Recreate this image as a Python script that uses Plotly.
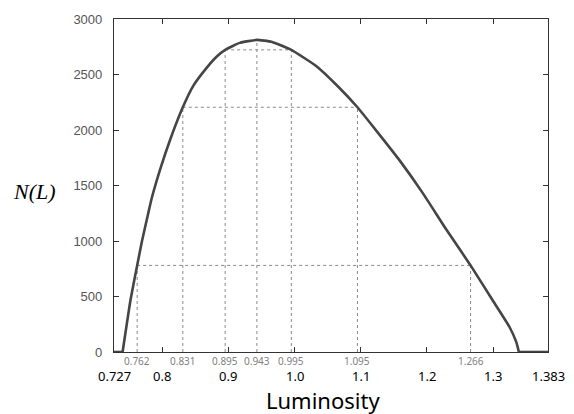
import plotly.graph_objects as go

# Curve N(L)
lum = [0.727, 0.740, 0.752, 0.762, 0.769, 0.778, 0.784, 0.797, 0.812, 0.831,
       0.847, 0.867, 0.882, 0.895, 0.917, 0.943, 0.965, 0.995, 1.033, 1.066,
       1.095, 1.124, 1.159, 1.194, 1.229, 1.266, 1.300, 1.325, 1.335, 1.339, 1.383]
count = [0, 0, 470, 780, 990, 1230, 1385, 1650, 1915, 2205,
         2400, 2560, 2660, 2722, 2785, 2812, 2795, 2722, 2575, 2390,
         2205, 1990, 1724, 1429, 1106, 780, 459, 223, 91, 0, 0]

# Marked luminosity values and their N
mark_L = [0.762, 0.831, 0.895, 0.943, 0.995, 1.095, 1.266]
mark_N = [780, 2205, 2722, 2812, 2722, 2205, 780]
mark_text = ["0.762", "0.831", "0.895", "0.943", "0.995", "1.095", "1.266"]

# Horizontal level pairs (left L, right L, level N)
pair_left = [0.762, 0.831, 0.895]
pair_right = [1.266, 1.095, 0.995]
pair_N = [780, 2205, 2722]

main_ticks = [0.727, 0.8, 0.9, 1.0, 1.1, 1.2, 1.3, 1.383]
main_text = ["0.727", "0.8", "0.9", "1.0", "1.1", "1.2", "1.3", "1.383"]
y_ticks = [0, 500, 1000, 1500, 2000, 2500, 3000]

guide = dict(color="#8a8a8a", width=1, dash="dot")
curve_line = dict(color="#454545", width=2.6)

fig = go.Figure()

for x, n in zip(mark_L, mark_N):
    fig.add_trace(go.Scatter(x=[x, x], y=[0, n], mode="lines", line=guide,
                             hoverinfo="skip", showlegend=False))
for a, b, n in zip(pair_left, pair_right, pair_N):
    fig.add_trace(go.Scatter(x=[a, b], y=[n, n], mode="lines", line=guide,
                             hoverinfo="skip", showlegend=False))

# flat zero parts at both ends
fig.add_trace(go.Scatter(x=lum[:2], y=count[:2], mode="lines", line=curve_line,
                         showlegend=False))
fig.add_trace(go.Scatter(x=lum[-2:], y=count[-2:], mode="lines", line=curve_line,
                         showlegend=False))
# main body of the curve
fig.add_trace(go.Scatter(x=lum[1:-1], y=count[1:-1], mode="lines",
                         line=dict(**curve_line, shape="spline", smoothing=0.4),
                         showlegend=False))

annotations = []
for v, t in zip(main_ticks, main_text):
    annotations.append(dict(x=v, y=0, xref="x", yref="paper", text=t,
                            showarrow=False, yanchor="middle", yshift=-24,
                            font=dict(family="Noto Sans", size=13, color="#000")))
for v, t in zip(mark_L, mark_text):
    annotations.append(dict(x=v, y=0, xref="x", yref="paper", text=t,
                            showarrow=False, yanchor="middle", yshift=-9,
                            font=dict(family="Noto Sans", size=10, color="#808080")))
annotations.append(dict(x=0.4816, y=0, xref="paper", yref="paper", text="Luminosity",
                        showarrow=False, yanchor="middle", yshift=-48,
                        font=dict(family="Noto Sans", size=22, color="#000")))
annotations.append(dict(x=0, y=1447, xref="paper", yref="y", text="<i>N(L)</i>",
                        showarrow=False, xanchor="center", yanchor="middle", xshift=-80,
                        font=dict(family="Liberation Serif", size=22, color="#000")))

fig.update_layout(
    width=574, height=414,
    margin=dict(l=114, r=26, t=12, b=62),
    paper_bgcolor="white", plot_bgcolor="white",
    annotations=annotations,
    xaxis=dict(range=[0.727, 1.383], tickvals=[0.8, 0.9, 1.0, 1.1, 1.2, 1.3],
               showticklabels=False, ticks="inside", ticklen=5, tickcolor="#333",
               showline=True, linecolor="#333", linewidth=1.2, mirror="ticks",
               showgrid=False, zeroline=False),
    yaxis=dict(range=[0, 3000], tickvals=y_ticks, ticks="inside", ticklen=5,
               tickcolor="#333", showline=True, linecolor="#333", linewidth=1.2,
               mirror="ticks", showgrid=False, zeroline=False,
               tickfont=dict(family="Liberation Sans", size=13, color="#555"),
               ticklabelstandoff=8),
)

fig.write_html("out.html", config={"displayModeBar": False},
               post_script="document.body.style.margin='0';")
